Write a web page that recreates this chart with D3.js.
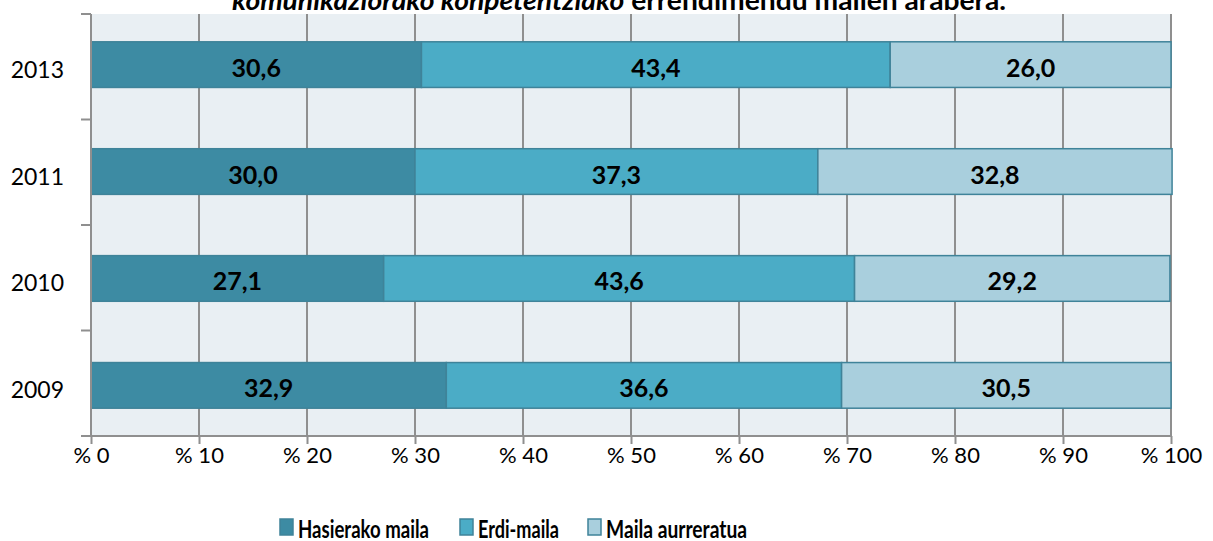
<!DOCTYPE html>
<html>
<head>
	<title>maila</title>
	<style>
	body { margin: 0; background: #fff; }
	text { font-family: Lato, "Open Sans", sans-serif; fill: #000; }
	.barlabel { font-size: 25px; font-weight: bold; text-anchor: middle; dominant-baseline: central; }
	.ticklabel { font-size: 22px; }
	.ylabel { font-size: 23px; }
	.legendtext { font-size: 24px; font-weight: bold; dominant-baseline: central; }
	</style>
	<script src="https://d3js.org/d3.v7.min.js"></script>
</head>
<body>
	<script type="text/javascript">
		var years = ['2013', '2011', '2010', '2009'];
		var seriesNames = ['Hasierako maila', 'Erdi-maila', 'Maila aurreratua'];
		var hasierako = [30.6, 30.0, 27.1, 32.9];
		var erdi = [43.4, 37.3, 43.6, 36.6];
		var aurreratua = [26.0, 32.8, 29.2, 30.5];
		var xTicks = [0, 10, 20, 30, 40, 50, 60, 70, 80, 90, 100];

		var colors = ['#3d8ba3', '#4bacc6', '#a9cfdd'];

		var svgWidth = 1213;
		var svgHeight = 541;
		var plotLeft = 91, plotRight = 1171, plotTop = 14, plotBottom = 436;

		var svg = d3.select('body').append('svg')
			.attr('width', svgWidth)
			.attr('height', svgHeight);

		// 数据整理
		var rows = years.map(function (y, i) {
			return { year: y, values: [hasierako[i], erdi[i], aurreratua[i]] };
		});

		var x = d3.scaleLinear().domain([0, 100]).range([plotLeft, plotRight]);
		var y = d3.scaleBand().domain(years).range([plotTop, plotBottom])
			.paddingInner(0.573).paddingOuter(0.26);

		// 背景
		svg.append('rect')
			.attr('x', plotLeft).attr('y', plotTop)
			.attr('width', plotRight - plotLeft).attr('height', plotBottom - plotTop)
			.attr('fill', '#e9eff3');

		// 标题 (只显示最后一行)
		var title = svg.append('text')
			.attr('x', 619).attr('y', 10)
			.attr('text-anchor', 'middle')
			.attr('textLength', 774)
			.attr('lengthAdjust', 'spacingAndGlyphs')
			.style('font-size', '27px').style('font-weight', 'bold');
		title.append('tspan').style('font-style', 'italic').text('komunikaziorako konpetentziako');
		title.append('tspan').text(' errendimendu mailen arabera.');

		// 网格线
		svg.selectAll('.grid')
			.data(xTicks.slice(1))
			.enter().append('line')
			.attr('x1', function (d) { return x(d); })
			.attr('x2', function (d) { return x(d); })
			.attr('y1', plotTop).attr('y2', plotBottom)
			.style('stroke', '#8f8f8f').style('stroke-width', 2);

		// 条形
		var groups = svg.selectAll('.row')
			.data(rows)
			.enter().append('g');

		groups.each(function (r) {
			var g = d3.select(this);
			var start = 0;
			r.values.forEach(function (v, k) {
				g.append('rect')
					.attr('x', x(start))
					.attr('y', y(r.year))
					.attr('width', x(start + v) - x(start))
					.attr('height', y.bandwidth())
					.attr('fill', colors[k])
					.style('stroke', '#3f8399')
					.style('stroke-width', 1.5);
				g.append('text')
					.attr('class', 'barlabel')
					.attr('x', x(start + v / 2))
					.attr('y', y(r.year) + y.bandwidth() / 2 + 2)
					.text(v.toFixed(1).replace('.', ','));
				start += v;
			});
		});

		// X 轴
		var xAxis = d3.axisBottom(x).tickValues(xTicks).tickSize(8)
			.tickFormat(function (d) { return '% ' + d; });
		var gx = svg.append('g').attr('transform', 'translate(0,' + plotBottom + ')').call(xAxis);
		gx.select('.domain').remove();
		gx.selectAll('line').style('stroke', '#8f8f8f').style('stroke-width', 2);
		gx.selectAll('text').attr('class', 'ticklabel').attr('dy', '0.75em').attr('y', 10);
		svg.append('line')
			.attr('x1', plotLeft - 10).attr('x2', plotRight + 1)
			.attr('y1', plotBottom).attr('y2', plotBottom)
			.style('stroke', '#8f8f8f').style('stroke-width', 2);

		// Y 轴
		svg.append('line')
			.attr('x1', plotLeft).attr('x2', plotLeft)
			.attr('y1', plotTop).attr('y2', plotBottom)
			.style('stroke', '#8f8f8f').style('stroke-width', 2);
		svg.selectAll('.ytick')
			.data(d3.range(years.length))
			.enter().append('line')
			.attr('x1', plotLeft - 10).attr('x2', plotLeft)
			.attr('y1', function (d) { return plotTop + d * (plotBottom - plotTop) / years.length; })
			.attr('y2', function (d) { return plotTop + d * (plotBottom - plotTop) / years.length; })
			.style('stroke', '#8f8f8f').style('stroke-width', 2);
		svg.selectAll('.ylabel')
			.data(years)
			.enter().append('text')
			.attr('class', 'ylabel')
			.attr('x', 64)
			.attr('y', function (d) { return y(d) + y.bandwidth() / 2 + 4; })
			.attr('text-anchor', 'end')
			.attr('dominant-baseline', 'central')
			.text(function (d) { return d; });

		// 图例
		var legendX = [280, 460, 588];
		var legendW = [131, 81, 141];
		var legend = svg.selectAll('.legend')
			.data(seriesNames)
			.enter().append('g')
			.attr('transform', function (d, i) { return 'translate(' + legendX[i] + ',519)'; });
		legend.append('rect')
			.attr('width', 13).attr('height', 16)
			.attr('fill', function (d, i) { return colors[i]; })
			.style('stroke', '#3f8399').style('stroke-width', 1.5);
		legend.append('text')
			.attr('class', 'legendtext')
			.attr('x', 18).attr('y', 9)
			.attr('textLength', function (d, i) { return legendW[i]; })
			.attr('lengthAdjust', 'spacingAndGlyphs')
			.text(function (d) { return d; });
	</script>
</body>
</html>
